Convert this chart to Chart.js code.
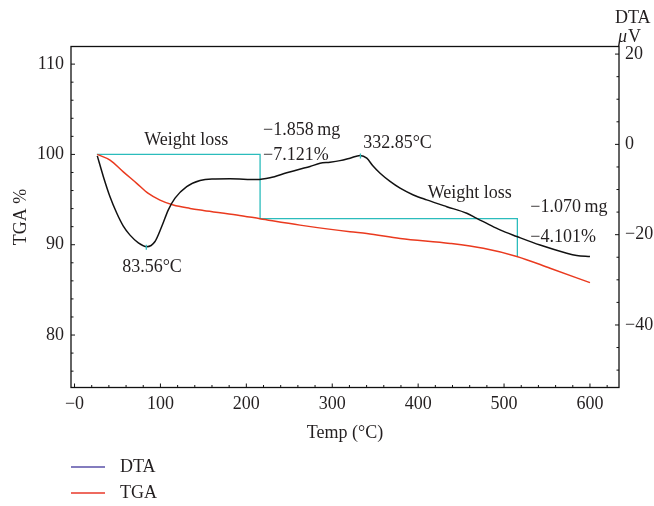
<!DOCTYPE html>
<html>
<head>
<meta charset="utf-8">
<script src="https://cdn.jsdelivr.net/npm/chart.js@4.4.1/dist/chart.umd.min.js"></script>
<style>
html, body { margin: 0; padding: 0; background: #fff; }
</style>
</head>
<body>
<canvas id="myChart" width="654" height="506"></canvas>
<script>
// Dữ liệu: nhiệt độ (°C)
const dtaTemp = [26.5, 33.5, 41.3, 49.1, 56.8, 64.6, 74.3, 84.1, 93.7, 101.5, 109.2, 117, 130.6, 146.1, 160, 181, 212.1, 227.6, 247, 262, 274.2, 285.8, 297.4, 309, 320.7, 332.4, 340.2, 347.5, 355.7, 367.3, 379, 394.4, 410, 433.3, 456.6, 468.2, 479.9, 495.3, 514.8, 541.9, 573, 584.6, 600];
const dtaValues = [-2.55, -7.1, -11.6, -15.2, -18.1, -20.1, -21.8, -22.65, -21.5, -18.2, -14.5, -11.9, -9.35, -8.0, -7.65, -7.6, -7.8, -7.4, -6.3, -5.5, -4.9, -4.2, -3.95, -3.6, -3.05, -2.45, -3.05, -4.8, -6.4, -8.2, -9.7, -11.2, -12.3, -13.8, -15.25, -16.4, -17.5, -18.95, -20.4, -22.3, -24.1, -24.6, -24.85];

const tgaTemp = [26.5, 41.3, 56.8, 72.4, 85.9, 99.5, 115, 134.5, 150, 188.8, 216, 262.5, 320.7, 340.2, 379, 437.2, 475.9, 514.8, 553.6, 600];
const tgaValues = [100, 99.37, 98.07, 96.8, 95.68, 94.94, 94.39, 94.02, 93.8, 93.3, 92.88, 92.17, 91.43, 91.25, 90.7, 90.14, 89.6, 88.7, 87.4, 85.8];

// Bậc thang "Weight loss"
const stepTemp = [26, 216, 216, 515.5, 515.5];
const stepValues = [100, 100, 92.88, 92.88, 88.7];

// Đỉnh DTA
const peakTemp = [83.56, 332.85];
const peakValues = [-22.65, -2.45];

const xTicks = [0, 100, 200, 300, 400, 500, 600];
const tgaTicks = [80, 90, 100, 110];
const dtaTicks = [-40, -20, 0, 20];

// Chú thích (theo trục TGA)
const notes = [
    { text: 'Weight loss', x: 130, y: 101.6, align: 'center' },
    { text: '\u22121.858\u2009mg', x: 219.5, y: 102.7, align: 'left' },
    { text: '\u22127.121%', x: 219.5, y: 99.92, align: 'left' },
    { text: '332.85\u00b0C', x: 336, y: 101.2, align: 'left' },
    { text: '83.56\u00b0C', x: 90.2, y: 87.5, align: 'center' },
    { text: 'Weight loss', x: 460, y: 95.7, align: 'center' },
    { text: '\u22121.070\u2009mg', x: 530.5, y: 94.2, align: 'left' },
    { text: '\u22124.101%', x: 530.5, y: 90.85, align: 'left' }
];

const FONT = 'Liberation Serif';
const TXT = '#231f20';
const SIZE = 18;
const font = { family: FONT, size: SIZE };

const toXY = (xs, ys) => xs.map((x, i) => ({ x: x, y: ys[i] }));

const extras = {
    id: 'extras',
    afterDraw(chart) {
        const { ctx, chartArea: a, scales } = chart;
        const x = scales.x, yL = scales.yTGA, yR = scales.yDTA;
        ctx.save();
        // khung
        ctx.strokeStyle = '#111';
        ctx.lineWidth = 1.3;
        ctx.strokeRect(a.left, a.top, a.right - a.left, a.bottom - a.top);

        // vạch chia hướng vào trong
        const marks = (scale, minor, major, draw) => {
            const start = Math.ceil(scale.min / minor) * minor;
            for (let v = start; v <= scale.max + 1e-9; v += minor) {
                const isMajor = Math.abs(v / major - Math.round(v / major)) < 1e-6;
                draw(scale.getPixelForValue(v), isMajor ? 4 : 2.5);
            }
        };
        ctx.lineWidth = 1;
        ctx.beginPath();
        marks(x, 20, 100, (p, l) => { ctx.moveTo(p, a.bottom); ctx.lineTo(p, a.bottom - l); });
        marks(yL, 2, 10, (p, l) => { ctx.moveTo(a.left, p); ctx.lineTo(a.left + l, p); });
        marks(yR, 5, 20, (p, l) => { ctx.moveTo(a.right, p); ctx.lineTo(a.right - l, p); });
        ctx.stroke();

        // đánh dấu đỉnh
        ctx.strokeStyle = '#2bbcbc';
        ctx.lineWidth = 1.3;
        ctx.beginPath();
        peakTemp.forEach((t, i) => {
            const px = x.getPixelForValue(t);
            const py = yR.getPixelForValue(peakValues[i]);
            ctx.moveTo(px, py - 2);
            ctx.lineTo(px, py + 3);
        });
        ctx.stroke();

        // chú thích
        ctx.fillStyle = TXT;
        ctx.font = SIZE + 'px "' + FONT + '"';
        ctx.textBaseline = 'middle';
        notes.forEach(n => {
            ctx.textAlign = n.align;
            ctx.fillText(n.text, x.getPixelForValue(n.x), yL.getPixelForValue(n.y));
        });

        // tiêu đề trục phải
        ctx.textAlign = 'left';
        ctx.fillText('DTA', 615, 18);
        ctx.font = 'italic ' + SIZE + 'px "' + FONT + '"';
        ctx.fillText('\u03bc', 618, 37);
        const mu = ctx.measureText('\u03bc').width;
        ctx.font = SIZE + 'px "' + FONT + '"';
        ctx.fillText('V', 618 + mu + 1, 37);

        // chú giải
        const legend = [['DTA', '#5a50a8'], ['TGA', '#e8392a']];
        legend.forEach((it, i) => {
            const ly = 467 + i * 26;
            ctx.strokeStyle = it[1];
            ctx.lineWidth = 1.5;
            ctx.beginPath();
            ctx.moveTo(71, ly);
            ctx.lineTo(105, ly);
            ctx.stroke();
            ctx.fillStyle = TXT;
            ctx.fillText(it[0], 120, ly);
        });
        ctx.restore();
    }
};

const ctx = document.getElementById('myChart').getContext('2d');

const myChart = new Chart(ctx, {
    type: 'line',
    data: {
        datasets: [
            {
                label: 'DTA',
                data: toXY(dtaTemp, dtaValues),
                yAxisID: 'yDTA',
                borderColor: '#111',
                borderWidth: 1.5,
                pointRadius: 0,
                cubicInterpolationMode: 'monotone'
            },
            {
                label: 'TGA',
                data: toXY(tgaTemp, tgaValues),
                yAxisID: 'yTGA',
                borderColor: '#ea3a1f',
                borderWidth: 1.5,
                pointRadius: 0,
                cubicInterpolationMode: 'monotone'
            },
            {
                label: 'steps',
                data: toXY(stepTemp, stepValues),
                yAxisID: 'yTGA',
                borderColor: '#2bbcbc',
                borderWidth: 1.3,
                pointRadius: 0,
                tension: 0
            }
        ]
    },
    options: {
        responsive: false,
        animation: false,
        layout: { padding: { top: 46.5, left: 0, right: 0, bottom: 60 } },
        scales: {
            x: {
                type: 'linear',
                position: 'bottom',
                min: -4.1,
                max: 633.8,
                afterBuildTicks: s => { s.ticks = xTicks.map(v => ({ value: v })); },
                afterFit: s => { s.height = 58.5; },
                grid: { display: false, drawTicks: false },
                border: { display: false },
                ticks: {
                    font: font, color: TXT, padding: 6, maxRotation: 0,
                    callback: v => v === 0 ? '\u22120' : v
                },
                title: { display: true, text: 'Temp (\u00b0C)', font: font, color: TXT, padding: { top: 0, bottom: 2 } }
            },
            yTGA: {
                type: 'linear',
                position: 'left',
                min: 74.19,
                max: 111.95,
                afterBuildTicks: s => { s.ticks = tgaTicks.map(v => ({ value: v })); },
                afterFit: s => { s.width = 71; },
                grid: { display: false, drawTicks: false },
                border: { display: false },
                ticks: { font: font, color: TXT, padding: 7 },
                title: { display: true, text: 'TGA %', font: font, color: TXT, padding: { top: 10, bottom: 0 } }
            },
            yDTA: {
                type: 'linear',
                position: 'right',
                min: -53.85,
                max: 21.68,
                afterBuildTicks: s => { s.ticks = dtaTicks.map(v => ({ value: v })); },
                afterFit: s => { s.width = 35; },
                grid: { display: false, drawTicks: false },
                border: { display: false },
                ticks: {
                    font: font, color: TXT, padding: 6,
                    callback: v => v < 0 ? '\u2212' + Math.abs(v) : v
                }
            }
        },
        plugins: {
            legend: { display: false },
            tooltip: { enabled: false }
        }
    },
    plugins: [extras]
});
</script>
</body>
</html>
